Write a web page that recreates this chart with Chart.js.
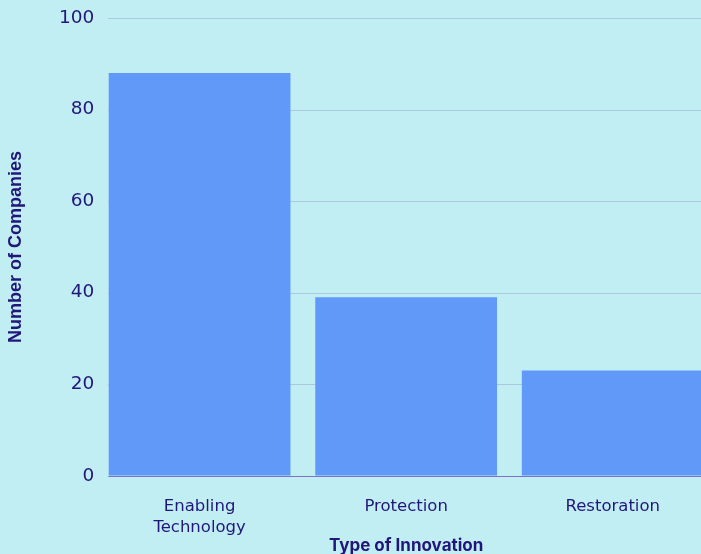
<!DOCTYPE html>
<html>
<head>
<meta charset="utf-8">
<script src="https://cdn.jsdelivr.net/npm/chart.js@4"></script>
<style>
  html, body { margin: 0; padding: 0; background: #c1eef3; overflow: hidden; }
  #wrap { width: 701px; height: 554px; overflow: hidden; }
</style>
</head>
<body>
<div id="wrap"><canvas id="innovChart" width="716" height="554"></canvas></div>
<script>
// chart data
const categories = [["Enabling", "Technology"], "Protection", "Restoration"];
const companyCounts = [88, 39, 23];
const yTicks = [0, 20, 40, 60, 80, 100];

const navy = "#21167a";

// horizontal grid lines start a bit right of the category band
const gridLines = {
  id: "gridLines",
  beforeDatasetsDraw(chart) {
    const y = chart.scales.y;
    const area = chart.chartArea;
    const c = chart.ctx;
    c.save();
    c.lineWidth = 1;
    y.ticks.forEach(t => {
      const py = Math.round(y.getPixelForValue(t.value)) + 0.5;
      c.strokeStyle = t.value === 0 ? "#7b73c4" : "#a9c8e2";
      c.beginPath();
      c.moveTo(area.left + 12, py);
      c.lineTo(area.right, py);
      c.stroke();
    });
    c.restore();
  }
};

const ctx = document.getElementById("innovChart").getContext("2d");
new Chart(ctx, {
  type: "bar",
  data: {
    labels: categories,
    datasets: [{
      label: "Number of Companies",
      data: companyCounts,
      backgroundColor: "#6199f9",
      borderWidth: 0,
      categoryPercentage: 0.88,
      barPercentage: 1
    }]
  },
  options: {
    responsive: false,
    animation: false,
    layout: { padding: { top: 18, right: 0, left: 7, bottom: 0 } },
    plugins: { legend: { display: false }, tooltip: { enabled: false } },
    scales: {
      x: {
        grid: { display: false, drawTicks: false },
        border: { display: false },
        ticks: {
          color: navy,
          font: { family: "DejaVu Sans", size: 16.5, lineHeight: 1.28 },
          padding: 20
        },
        title: {
          display: true,
          text: "Type of Innovation",
          color: navy,
          font: { family: "Inter", size: 17, weight: "bold", lineHeight: 1 },
          // multi-line tick labels reserve one line too many, take it back here
          padding: { top: -21, bottom: 0 }
        }
      },
      y: {
        min: 0,
        max: 100,
        afterBuildTicks: (axis) => { axis.ticks = yTicks.map(v => ({ value: v })); },
        grid: { display: false, drawTicks: false },
        border: { display: false },
        ticks: { color: navy, font: { family: "DejaVu Sans", size: 18.5 }, padding: 2 },
        title: {
          display: true,
          text: "Number of Companies",
          color: navy,
          font: { family: "Liberation Sans", size: 18, weight: "bold", lineHeight: 1 },
          padding: { top: 0, bottom: 32 }
        }
      }
    }
  },
  plugins: [gridLines]
});
</script>
</body>
</html>
